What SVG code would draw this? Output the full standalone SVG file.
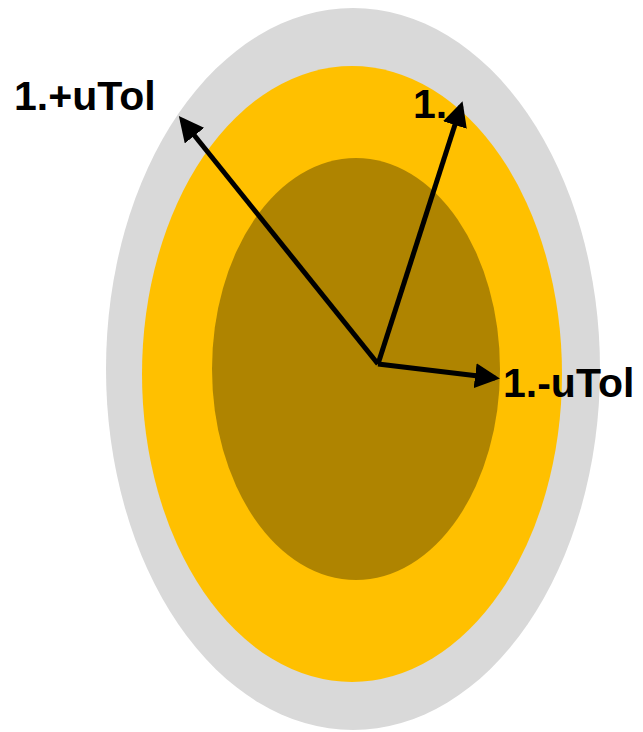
<svg xmlns="http://www.w3.org/2000/svg" width="643" height="732" viewBox="0 0 643 732">
<style>
.lbl{font-family:"Liberation Sans",Arial,sans-serif;font-weight:bold;font-size:41px;fill:#000}
.ar{stroke:#000;stroke-width:5;fill:none;marker-end:url(#ah)}
</style>
<defs>
<marker id="ah" markerWidth="5" markerHeight="5" refX="4" refY="2.5" orient="auto" markerUnits="strokeWidth">
<path d="M0,0 L5,2.5 L0,5 z" fill="#000"/>
</marker>
</defs>
<g id="outer"><ellipse cx="353" cy="369" rx="247" ry="361" fill="#D9D9D9"/></g>
<g id="middle"><ellipse cx="352" cy="374" rx="210" ry="308" fill="#FFC000"/></g>
<g id="inner"><ellipse cx="356" cy="369" rx="144" ry="211" fill="#AF8400"/></g>
<g id="connectors">
<line class="ar" x1="378" y1="364" x2="182" y2="120"/>
<line class="ar" x1="378" y1="364" x2="461" y2="106"/>
<line class="ar" x1="378" y1="364" x2="495" y2="378"/>
</g>
<g id="label-plus"><text class="lbl" x="14" y="110">1.+uTol</text></g>
<g id="label-one"><text class="lbl" x="413" y="118">1.</text></g>
<g id="label-minus"><text class="lbl" x="503" y="397">1.-uTol</text></g>
</svg>
